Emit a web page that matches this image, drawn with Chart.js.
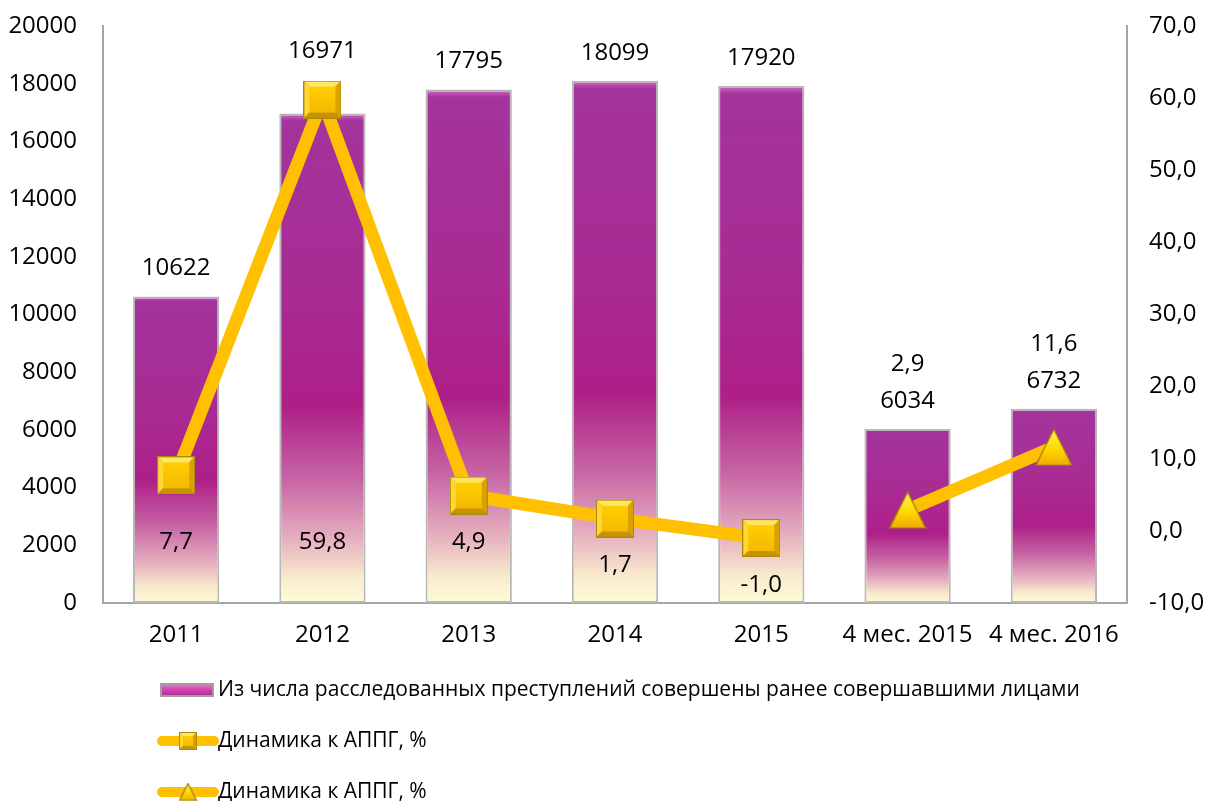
<!DOCTYPE html>
<html>
<head>
<meta charset="utf-8">
<script src="https://cdn.jsdelivr.net/npm/chart.js@4/dist/chart.umd.min.js"></script>
<style>
  html, body { margin: 0; padding: 0; background: #ffffff; }
  canvas { display: block; }
</style>
</head>
<body>
<canvas id="chart" width="1209" height="801"></canvas>
<script>
// ---------- DATA ----------
const categories = ['2011', '2012', '2013', '2014', '2015', '4 мес. 2015', '4 мес. 2016'];
const crimesByRepeatOffenders = [10622, 16971, 17795, 18099, 17920, 6034, 6732];
const dynamicsYears = [7.7, 59.8, 4.9, 1.7, -1.0, null, null];
const dynamicsPeriod = [null, null, null, null, null, 2.9, 11.6];
const seriesNames = [
  'Из числа расследованных преступлений совершены ранее совершавшими лицами',
  'Динамика к АППГ, %',
  'Динамика к АППГ, %'
];
const leftTicks = { min: 0, max: 20000, step: 2000 };
const rightTicks = { min: -10, max: 70, step: 10 };

// ---------- STYLE ----------
const FONT = '"Open Sans", "Noto Sans", "DejaVu Sans", sans-serif';
const AXIS_COLOR = '#a6a6a6';
const LINE_COLOR = '#ffc000';
const TICK_SIZE = 24;

function makeSquare(s) {
  const c = document.createElement('canvas');
  c.width = s; c.height = s;
  const g = c.getContext('2d');
  g.fillStyle = '#a88a10';
  g.fillRect(0, 0, s, s);
  const b = Math.max(2, Math.round(s * 0.14));
  g.fillStyle = '#ffe766';
  g.beginPath(); g.moveTo(1, 1); g.lineTo(s - 1, 1); g.lineTo(s - 1 - b, 1 + b); g.lineTo(1 + b, 1 + b); g.closePath(); g.fill();
  g.fillStyle = '#ffd633';
  g.beginPath(); g.moveTo(1, 1); g.lineTo(1 + b, 1 + b); g.lineTo(1 + b, s - 1 - b); g.lineTo(1, s - 1); g.closePath(); g.fill();
  g.fillStyle = '#d9a200';
  g.beginPath(); g.moveTo(s - 1, 1); g.lineTo(s - 1, s - 1); g.lineTo(s - 1 - b, s - 1 - b); g.lineTo(s - 1 - b, 1 + b); g.closePath(); g.fill();
  g.fillStyle = '#c89300';
  g.beginPath(); g.moveTo(1, s - 1); g.lineTo(s - 1, s - 1); g.lineTo(s - 1 - b, s - 1 - b); g.lineTo(1 + b, s - 1 - b); g.closePath(); g.fill();
  const grd = g.createLinearGradient(0, b, 0, s - b);
  grd.addColorStop(0, '#ffd000');
  grd.addColorStop(1, '#f5b800');
  g.fillStyle = grd;
  g.fillRect(1 + b, 1 + b, s - 2 - 2 * b, s - 2 - 2 * b);
  return c;
}

function makeTriangle(s) {
  const c = document.createElement('canvas');
  c.width = s; c.height = s;
  const g = c.getContext('2d');
  g.beginPath();
  g.moveTo(s / 2, 1);
  g.lineTo(s - 1, s - 1);
  g.lineTo(1, s - 1);
  g.closePath();
  const grd = g.createLinearGradient(0, 0, 0, s);
  grd.addColorStop(0, '#fff25a');
  grd.addColorStop(0.55, '#ffd800');
  grd.addColorStop(1, '#f0a800');
  g.fillStyle = grd;
  g.fill();
  g.lineWidth = 1.2;
  g.strokeStyle = '#9c7c10';
  g.stroke();
  return c;
}

const squareImg = makeSquare(38);
const triangleImg = makeTriangle(38);
const squareSmall = makeSquare(18);
const triangleSmall = makeTriangle(19);

function barGradient(ctx, top, bottom) {
  const g = ctx.createLinearGradient(0, top, 0, bottom);
  g.addColorStop(0, '#d46cc6');
  g.addColorStop(0.015, '#a4339c');
  g.addColorStop(0.35, '#a82c94');
  g.addColorStop(0.6, '#ae1f88');
  g.addColorStop(0.75, '#c766a5');
  g.addColorStop(0.87, '#e6b0bf');
  g.addColorStop(0.95, '#f9ecce');
  g.addColorStop(1, '#fdfbd6');
  return g;
}

const fmt1 = v => v.toFixed(1).replace('.', ',');

const labelsPlugin = {
  id: 'customLabels',
  afterDatasetsDraw(chart) {
    const ctx = chart.ctx;
    const yR = chart.scales.y1;
    const barMeta = chart.getDatasetMeta(0);
    const sqMeta = chart.getDatasetMeta(1);
    ctx.save();
    ctx.font = TICK_SIZE + 'px ' + FONT;
    ctx.fillStyle = '#000000';
    ctx.textAlign = 'center';
    ctx.textBaseline = 'middle';
    crimesByRepeatOffenders.forEach((v, i) => {
      const bar = barMeta.data[i];
      let y = bar.y - 28;
      const sq = sqMeta.data[i];
      if (dynamicsYears[i] !== null && sq && Math.abs(sq.y - bar.y) < 40) {
        y = Math.min(y, sq.y - 19 - 29);
      }
      ctx.fillText(String(v), bar.x, y);
      if (dynamicsPeriod[i] !== null) {
        ctx.fillText(fmt1(dynamicsPeriod[i]), bar.x, y - 37);
      }
      if (dynamicsYears[i] !== null) {
        const zero = yR.getPixelForValue(0);
        const ly = Math.max(zero + 11, sq.y + 47);
        ctx.fillText(fmt1(dynamicsYears[i]), sq.x, ly);
      }
    });
    ctx.restore();
  },
  afterDraw(chart) {
    const ctx = chart.ctx;
    ctx.save();
    ctx.font = '21px ' + FONT;
    ctx.fillStyle = '#000000';
    ctx.textAlign = 'left';
    ctx.textBaseline = 'middle';
    const r1 = 690;
    const sg = ctx.createLinearGradient(0, r1 - 7, 0, r1 + 7);
    sg.addColorStop(0, '#f080d8');
    sg.addColorStop(0.5, '#d040b0');
    sg.addColorStop(1, '#b02890');
    ctx.fillStyle = '#a0a0a0';
    ctx.fillRect(160, r1 - 7, 54, 14);
    ctx.fillStyle = sg;
    ctx.fillRect(162, r1 - 5, 50, 10);
    ctx.fillStyle = '#000000';
    ctx.fillText(seriesNames[0], 218, r1);
    [[741, squareSmall, seriesNames[1]], [792, triangleSmall, seriesNames[2]]].forEach(([ry, img, txt]) => {
      ctx.strokeStyle = LINE_COLOR;
      ctx.lineWidth = 10;
      ctx.lineCap = 'round';
      ctx.beginPath();
      ctx.moveTo(162, ry);
      ctx.lineTo(214, ry);
      ctx.stroke();
      ctx.drawImage(img, 188 - img.width / 2, ry - img.height / 2);
      ctx.fillStyle = '#000000';
      ctx.fillText(txt, 218, ry);
    });
    ctx.restore();
  }
};

const chart = new Chart(document.getElementById('chart'), {
  type: 'bar',
  data: {
    labels: categories,
    datasets: [
      {
        type: 'bar',
        label: seriesNames[0],
        data: crimesByRepeatOffenders,
        yAxisID: 'y',
        order: 2,
        barPercentage: 0.59,
        categoryPercentage: 1.0,
        borderColor: '#b8b8b8',
        borderWidth: 2,
        borderSkipped: false,
        backgroundColor(context) {
          const ch = context.chart;
          if (!ch.chartArea || context.type !== 'data') return '#a8359c';
          const ys = ch.scales.y;
          const top = ys.getPixelForValue(context.raw);
          const bottom = ys.getPixelForValue(0);
          return barGradient(ch.ctx, top, bottom);
        }
      },
      {
        type: 'line',
        label: seriesNames[1],
        data: dynamicsYears,
        yAxisID: 'y1',
        order: 1,
        borderColor: LINE_COLOR,
        borderWidth: 13,
        borderJoinStyle: 'round',
        pointStyle: squareImg,
        pointRadius: 19,
        tension: 0,
        spanGaps: false,
        clip: false
      },
      {
        type: 'line',
        label: seriesNames[2],
        data: dynamicsPeriod,
        yAxisID: 'y1',
        order: 0,
        borderColor: LINE_COLOR,
        borderWidth: 13,
        pointStyle: triangleImg,
        pointRadius: 19,
        tension: 0,
        spanGaps: false,
        clip: false
      }
    ]
  },
  options: {
    responsive: false,
    animation: false,
    layout: { autoPadding: false, padding: { top: 26, bottom: 0, left: 0, right: 0 } },
    plugins: {
      legend: { display: false },
      tooltip: { enabled: false }
    },
    scales: {
      x: {
        grid: { display: false, drawTicks: false },
        border: { display: true, color: AXIS_COLOR, width: 2 },
        ticks: { color: '#000000', font: { family: FONT, size: TICK_SIZE }, padding: 18, maxRotation: 0, autoSkip: false },
        afterFit(scale) { scale.height = 198; }
      },
      y: {
        position: 'left',
        min: leftTicks.min,
        max: leftTicks.max,
        grid: { display: false, drawOnChartArea: false, drawTicks: true, tickLength: 12, color: 'rgba(0,0,0,0)' },
        border: { display: true, color: AXIS_COLOR, width: 2 },
        ticks: {
          stepSize: leftTicks.step,
          color: '#000000',
          font: { family: FONT, size: TICK_SIZE, lineHeight: 0.35 },
          padding: 14,
          callback: v => String(v)
        },
        afterFit(scale) { scale.width = 103; }
      },
      y1: {
        position: 'right',
        min: rightTicks.min,
        max: rightTicks.max,
        grid: { display: false, drawOnChartArea: false, drawTicks: true, tickLength: 8, color: AXIS_COLOR, tickWidth: 2 },
        border: { display: true, color: AXIS_COLOR, width: 2 },
        ticks: {
          stepSize: rightTicks.step,
          color: '#000000',
          font: { family: FONT, size: TICK_SIZE, lineHeight: 0.35 },
          padding: 14,
          callback: v => fmt1(v)
        },
        afterFit(scale) { scale.width = 82; }
      }
    }
  },
  plugins: [labelsPlugin]
});
</script>
</body>
</html>
